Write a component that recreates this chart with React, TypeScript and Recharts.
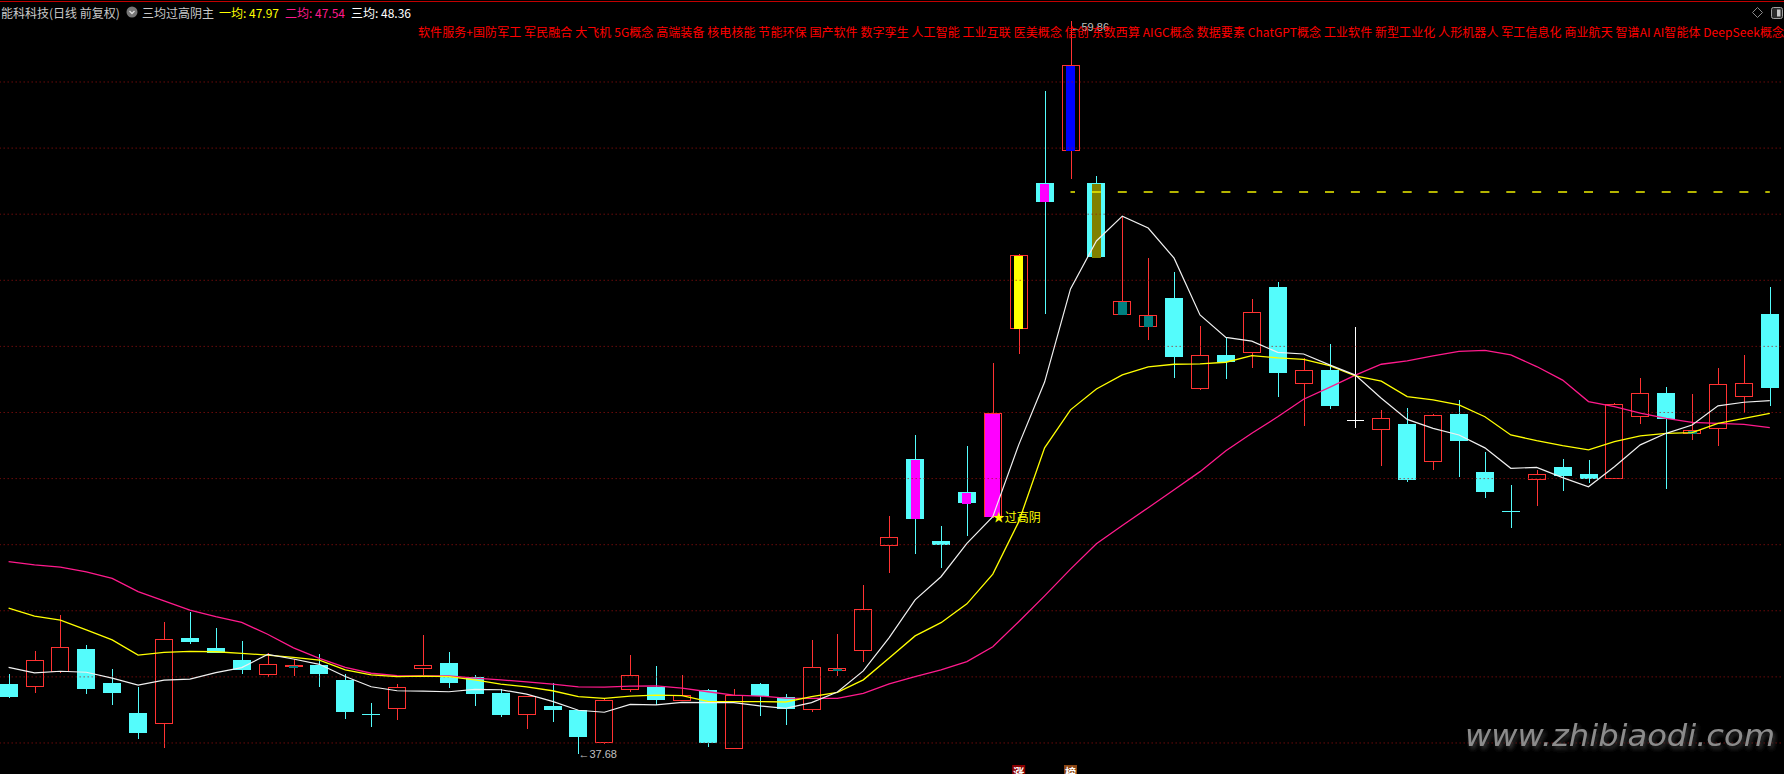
import React from "react";
import { ComposedChart, Bar, Line, XAxis, YAxis, ReferenceLine, ReferenceDot } from "recharts";

// daily candles (price units)
const opens = [
  39.79, 39.7, 40.16, 40.84, 39.81, 38.91, 38.6, 41.18, 40.87, 40.51,
  40.08, 40.3, 40.36, 39.91, 38.89, 39.05, 40.25, 40.42, 40.01, 39.52,
  38.86, 39.11, 38.99, 38.02, 39.62, 39.69, 39.28, 39.6, 37.84, 39.79,
  39.39, 39.02, 40.19, 40.8, 43.98, 46.59, 44.1, 45.58, 44.85, 50.55,
  54.94, 55.93, 54.94, 50.97, 50.61, 51.47, 48.73, 49.74, 49.82, 51.8,
  48.88, 49.3, 47.77, 47.49, 47.65, 46.51, 47.95, 46.2, 45.03, 45.98,
  46.35, 46.14, 46.0, 47.87, 48.59, 47.37, 47.52, 48.48, 50.98,
];
const highs = [
  40.09, 40.78, 41.86, 40.96, 40.24, 39.7, 41.66, 41.96, 41.49, 41.09,
  40.71, 40.54, 40.7, 40.1, 39.21, 39.79, 41.27, 40.75, 40.05, 39.62,
  39.43, 39.82, 39.0, 39.32, 40.66, 40.33, 40.06, 39.63, 39.64, 39.8,
  39.48, 41.12, 41.29, 42.77, 44.87, 47.32, 44.57, 46.99, 49.5, 52.8,
  57.73, 59.86, 55.15, 53.92, 52.68, 52.25, 50.61, 50.25, 51.44, 51.94,
  49.65, 50.08, 50.59, 48.08, 48.14, 47.95, 48.38, 46.8, 45.81, 46.26,
  46.59, 46.56, 48.28, 49.04, 48.77, 48.57, 49.35, 49.74, 51.8,
];
const lows = [
  39.35, 39.52, 40.12, 39.48, 39.16, 38.12, 37.86, 41.0, 40.71, 40.1,
  39.99, 40.04, 39.7, 38.74, 38.49, 38.71, 40.06, 39.67, 39.13, 38.79,
  38.43, 38.64, 37.68, 37.97, 39.55, 39.14, 39.26, 37.89, 37.84, 38.82,
  38.54, 38.95, 40.04, 40.45, 43.13, 43.72, 43.3, 44.26, 44.8, 49.78,
  50.99, 55.08, 52.69, 50.95, 50.19, 49.05, 48.67, 49.01, 49.35, 48.48,
  47.6, 48.12, 47.52, 46.39, 45.91, 46.26, 46.06, 45.42, 44.51, 45.18,
  45.63, 45.88, 45.98, 47.65, 45.69, 47.17, 47.0, 47.98, 48.21,
];
const closes = [
  39.4, 40.51, 40.9, 39.64, 39.52, 38.31, 41.12, 41.07, 40.73, 40.22,
  40.38, 40.34, 40.1, 38.95, 38.86, 39.69, 40.35, 39.82, 39.49, 38.86,
  39.41, 39.01, 38.19, 39.29, 40.05, 39.31, 39.45, 38.01, 39.44, 39.42,
  39.04, 40.29, 40.25, 42.04, 44.23, 44.78, 44.0, 45.26, 47.98, 52.76,
  54.37, 58.5, 52.69, 51.36, 50.94, 49.69, 49.73, 49.54, 51.03, 49.18,
  49.28, 48.21, 47.77, 47.82, 45.96, 47.92, 47.15, 45.6, 45.0, 46.13,
  46.09, 46.0, 48.25, 48.58, 47.79, 47.44, 48.85, 48.88, 48.75,
];

// 一均 / 二均 / 三均
const ma1 = [
  42.08, 41.84, 41.72, 41.42, 41.12, 40.66, 40.74, 40.77, 40.76, 40.71,
  40.66, 40.59, 40.51, 40.21, 40.06, 40.01, 40.02, 40.01, 39.91, 39.78,
  39.7, 39.58, 39.4, 39.35, 39.42, 39.45, 39.43, 39.26, 39.25, 39.25,
  39.24, 39.4, 39.53, 39.91, 40.57, 41.24, 41.64, 42.21, 43.11, 44.69,
  46.93, 48.08, 48.71, 49.14, 49.38, 49.46, 49.47, 49.52, 49.72, 49.65,
  49.61, 49.42, 49.11, 48.95, 48.48, 48.38, 48.23, 47.87, 47.32, 47.15,
  47.0, 46.87, 47.12, 47.29, 47.37, 47.39, 47.67, 47.82, 47.97,
];
const ma2 = [
  43.49, 43.39, 43.32, 43.18, 42.98, 42.58, 42.3, 42.02, 41.82, 41.65,
  41.29, 40.88, 40.56, 40.29, 40.11, 40.04, 40.03, 40.03, 39.96, 39.91,
  39.85, 39.78, 39.7, 39.69, 39.72, 39.73, 39.66, 39.55, 39.45, 39.42,
  39.36, 39.35, 39.35, 39.5, 39.79, 40.01, 40.21, 40.46, 40.91, 41.67,
  42.45, 43.26, 44.03, 44.58, 45.12, 45.66, 46.21, 46.84, 47.37, 47.87,
  48.4, 48.76, 49.13, 49.46, 49.56, 49.71, 49.85, 49.88, 49.74, 49.39,
  48.98, 48.33, 48.18, 47.98, 47.82, 47.7, 47.67, 47.64, 47.54,
];
const ma3 = [
  40.29, 40.12, 40.17, 40.14, 39.96, 39.75, 39.9, 39.93, 40.13, 40.28,
  40.68, 40.54, 40.38, 40.01, 39.7, 39.58, 39.57, 39.55, 39.62, 39.61,
  39.48, 39.26, 38.99, 38.93, 39.17, 39.15, 39.23, 39.22, 39.22, 39.12,
  39.05, 39.22, 39.54, 40.18, 41.19, 42.33, 43.03, 44.04, 44.85, 47.02,
  48.92, 51.74, 53.19, 53.94, 53.58, 52.67, 50.95, 50.27, 50.16, 49.82,
  49.77, 49.44, 49.13, 48.43, 47.79, 47.52, 47.32, 46.93, 46.31, 46.34,
  46.03, 45.75, 46.36, 47.02, 47.37, 47.62, 48.2, 48.31, 48.36,
];

// indicator signal candles: day index and kind
const signalDays = [11, 32, 35, 37, 38, 39, 40, 41, 42, 43, 44, 65];
const signalKinds = ["t", "t", "m", "m", "M", "y", "m", "b", "o", "t", "t", "t"];

const gridPrices = [38, 40, 42, 44, 46, 48, 50, 52, 54, 56, 58];
const levelPrice = 54.67;
const levelFrom = 41;
const crossDay = 38;
const highDay = 41;
const lowDay = 22;
const badges = [
  { day: 39, text: "涨", kind: "up" },
  { day: 41, text: "榜", kind: "list" },
];

const concepts = [
  "软件服务+国防军工", "军民融合", "大飞机", "5G概念", "高端装备", "核电核能", "节能环保", "国产软件",
  "数字孪生", "人工智能", "工业互联", "医美概念", "信创", "东数西算", "AIGC概念", "数据要素",
  "ChatGPT概念", "工业软件", "新型工业化", "人形机器人", "军工信息化", "商业航天", "智谱AI", "AI智能体", "DeepSeek概念",
];

const RED = "#ff3232";
const CYAN = "#54fcfc";
const SIG: Record<string, string> = {
  t: "#008080", m: "#ff00ff", M: "#ff00ff", y: "#ffff00", b: "#0000ff", o: "#808000",
};
const FONT = "'Noto Sans CJK SC', 'Noto Sans', sans-serif";

const rows = opens.map((o, i) => {
  const k = signalDays.indexOf(i);
  return {
    i,
    open: o,
    high: highs[i],
    low: lows[i],
    close: closes[i],
    sig: k >= 0 ? signalKinds[k] : "",
    ma1: ma1[i],
    ma2: ma2[i],
    ma3: ma3[i],
    level: i >= levelFrom ? levelPrice : null,
  };
});

function Candle(props: any) {
  const { x, y, width, height, payload } = props;
  if (x == null || !payload) return null;
  const top = Math.min(y, y + height);
  const bot = Math.max(y, y + height);
  const span = payload.high - payload.low;
  const py = (p: number) => (span > 0 ? top + ((payload.high - p) / span) * (bot - top) : top);
  const cx = Math.round(x + width / 2) + 0.5;
  const left = Math.round(x) + 0.5;
  const w = Math.round(width) - 1;
  const { open, close, sig } = payload;
  const yo = py(open);
  const yc = py(close);
  const bTop = Math.min(yo, yc);
  const bBot = Math.max(yo, yc);
  const parts: React.ReactNode[] = [];

  if (open === close) {
    parts.push(<line key="w" x1={cx} x2={cx} y1={top} y2={bot} stroke="#ffffff" />);
    parts.push(<line key="b" x1={left} x2={left + w} y1={Math.round(yo) + 0.5} y2={Math.round(yo) + 0.5} stroke="#ffffff" />);
  } else if (close > open) {
    parts.push(<line key="w1" x1={cx} x2={cx} y1={top} y2={bTop} stroke={RED} />);
    parts.push(<line key="w2" x1={cx} x2={cx} y1={bBot} y2={bot} stroke={RED} />);
    parts.push(
      <rect key="b" x={left} y={bTop} width={w} height={Math.max(bBot - bTop, 1)} fill="#000" stroke={RED} />
    );
  } else {
    parts.push(<line key="w" x1={cx} x2={cx} y1={top} y2={bot} stroke={CYAN} />);
    parts.push(<rect key="b" x={x} y={bTop} width={width} height={Math.max(bBot - bTop, 1.5)} fill={CYAN} />);
  }
  if (sig) {
    const iw = sig === "M" ? width - 3 : 9;
    parts.push(
      <rect key="s" x={x + (width - iw) / 2} y={bTop + 0.5} width={iw} height={Math.max(bBot - bTop, 1.5)} fill={SIG[sig]} />
    );
  }
  return <g shapeRendering="crispEdges">{parts}</g>;
}

export default function App() {
  return (
    <div style={{ position: "fixed", left: 0, top: 0, width: 1784, height: 774, background: "#000", overflow: "hidden" }}>
      <ComposedChart
        width={1784}
        height={774}
        data={rows}
        margin={{ top: 15.9, right: 1.25, bottom: 14.5, left: -4.35 }}
        style={{ background: "#000" }}
      >
        <XAxis dataKey="i" hide />
        <YAxis hide type="number" domain={[37.5, 60]} allowDataOverflow />
        {gridPrices.map((p) => (
          <ReferenceLine key={p} y={p} stroke="#a01010" strokeDasharray="1 3" ifOverflow="visible" />
        ))}
        <Line
          dataKey="level"
          stroke="#f0f000"
          strokeWidth={1.5}
          strokeDasharray="4.5 16.9 4.5 0"
          dot={false}
          isAnimationActive={false}
        />
        <Bar
          dataKey={(d: any) => [d.low, d.high]}
          barSize={18}
          shape={(p: any) => <Candle {...p} />}
          isAnimationActive={false}
        />
        <Line dataKey="ma2" stroke="#ff1a8c" strokeWidth={1.3} dot={false} isAnimationActive={false} />
        <Line dataKey="ma1" stroke="#ffff00" strokeWidth={1.3} dot={false} isAnimationActive={false} />
        <Line dataKey="ma3" stroke="#f0f0f0" strokeWidth={1.2} dot={false} isAnimationActive={false} />
        <ReferenceDot
          x={crossDay}
          y={opens[crossDay]}
          r={0}
          ifOverflow="visible"
          shape={(p: any) => (
            <text x={p.cx} y={p.cy} fill="#ffff00" fontSize={12} fontFamily={FONT} dominantBaseline="central">
              ★过高阴
            </text>
          )}
        />
        <ReferenceDot
          x={highDay}
          y={highs[highDay]}
          r={0}
          ifOverflow="visible"
          shape={(p: any) => (
            <text x={p.cx} y={p.cy + 6.5} fill="#c0c0c0" fontSize={11} fontFamily="'Liberation Sans', sans-serif" dominantBaseline="central">
              ←{highs[highDay].toFixed(2)}
            </text>
          )}
        />
        <ReferenceDot
          x={lowDay}
          y={lows[lowDay]}
          r={0}
          ifOverflow="visible"
          shape={(p: any) => (
            <text x={p.cx} y={p.cy} fill="#c0c0c0" fontSize={11} fontFamily="'Liberation Sans', sans-serif" dominantBaseline="central">
              ←{lows[lowDay].toFixed(2)}
            </text>
          )}
        />
        {badges.map((b) => (
          <ReferenceDot
            key={b.day}
            x={b.day}
            y={37.5}
            r={0}
            ifOverflow="visible"
            shape={(p: any) => (
              <g>
                <rect x={p.cx - 6.5} y={p.cy + 5.5} width={13} height={14} fill={b.kind === "up" ? "#8b0000" : "#8b4513"} />
                <text x={p.cx} y={p.cy + 17} fill="#fff" fontSize={11} fontWeight="bold" fontFamily={FONT} textAnchor="middle">
                  {b.text}
                </text>
              </g>
            )}
          />
        ))}
      </ComposedChart>

      <svg width={1784} height={774} style={{ position: "absolute", left: 0, top: 0, pointerEvents: "none" }}>
        <defs>
          <filter id="wm" x="-5%" y="-30%" width="110%" height="160%">
            <feDropShadow dx="2" dy="3" stdDeviation="2" floodColor="#3a3a3a" />
          </filter>
        </defs>
        <line x1={0} x2={1784} y1={1.5} y2={1.5} stroke="#c00000" />
        <g fontFamily={FONT} fontSize={12} dominantBaseline="central">
          <text x={1} y={12} fill="#c8c8c8">能科科技(日线 前复权)</text>
          <circle cx={132} cy={12} r={5.5} fill="#767676" />
          <path d="M129.5 11 L132 13.5 L134.5 11" stroke="#e0e0e0" strokeWidth={1.3} fill="none" />
          <text x={142} y={12} fill="#c8c8c8">三均过高阴主</text>
          <text x={219} y={12} fill="#ffff00">一均: {ma1[ma1.length - 1].toFixed(2)}</text>
          <text x={285} y={12} fill="#ff1a8c">二均: {ma2[ma2.length - 1].toFixed(2)}</text>
          <text x={351} y={12} fill="#ffffff">三均: {ma3[ma3.length - 1].toFixed(2)}</text>
          <text x={418} y={31} fill="#ff0000" textLength={1366} lengthAdjust="spacing">
            {concepts.join(" ")}
          </text>
        </g>
        <path d="M1757.5 7.5 L1762.5 12.5 L1757.5 17.5 L1752.5 12.5 Z" stroke="#8a8a8a" fill="none" />
        <rect x={1771.5} y={7.5} width={11} height={11} rx={2} stroke="#a0a0a0" fill="#2a2a2a" />
        <rect x={1777} y={9.5} width={3.5} height={7} fill="#c8c8c8" />
        <text
          x={1465}
          y={746}
          fill="#8c8c8c"
          fontSize={31}
          fontStyle="italic"
          fontFamily="'DejaVu Sans', sans-serif"
          textLength={310}
          lengthAdjust="spacingAndGlyphs"
          filter="url(#wm)"
        >
          www.zhibiaodi.com
        </text>
      </svg>
    </div>
  );
}
